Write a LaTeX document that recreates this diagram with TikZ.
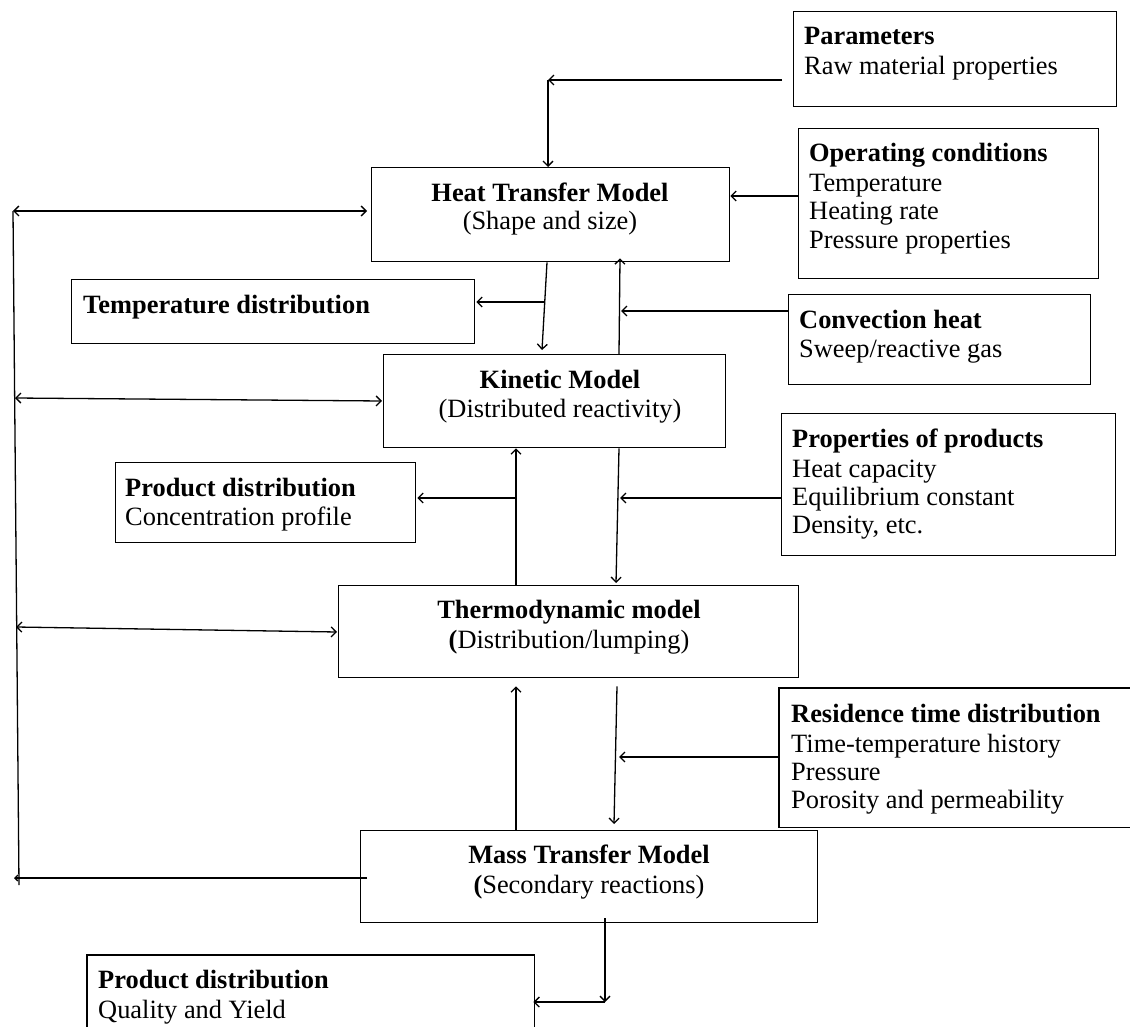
\documentclass[tikz,border=0pt]{standalone}
\usepackage{fontspec}
\setmainfont{Liberation Serif}
\usetikzlibrary{arrows.meta,calc}
\begin{document}
\begin{tikzpicture}[x=1pt,y=-1pt,
  box/.style={draw,line width=1.3pt,inner sep=0pt,anchor=north west},
  hbox/.style={inner sep=0pt,anchor=north west},
  txt/.style={inner sep=0pt,font=\fontsize{26.4}{28.7}\selectfont},
  bt/.style={inner sep=0pt,font=\fontsize{26.4}{28.7}\selectfont\bfseries},
  ln/.style={line width=1.3pt},
  arr/.style={ln,-{Straight Barb[length=5pt,width=10pt]}},
  darr/.style={ln,{Straight Barb[length=5pt,width=10pt]}-{Straight Barb[length=5pt,width=10pt]}},
]
\useasboundingbox (0,0) rectangle (1130,1027);

% boxes
\node[box,minimum width=323pt,minimum height=95pt]  (param)  at (793,11)  {};
\node[box,minimum width=358pt,minimum height=94pt]  (ht)     at (371,167) {};
\node[box,minimum width=300pt,minimum height=150pt] (opc)    at (798,128) {};
\node[box,minimum width=403pt,minimum height=64pt]  (tempd)  at (71,279)  {};
\node[box,minimum width=302pt,minimum height=90pt]  (conv)   at (788,294) {};
\node[box,minimum width=342pt,minimum height=93pt]  (kin)    at (383,354) {};
\node[box,minimum width=300pt,minimum height=80pt]  (prodA)  at (115,462) {};
\node[box,minimum width=334pt,minimum height=142pt] (props)  at (781,413) {};
\node[box,minimum width=460pt,minimum height=92pt]  (thermo) at (338,585) {};
\node[hbox,minimum width=352pt,minimum height=139pt] (resid) at (779,688) {};
\draw[ln] (resid.north east) -- (resid.north west) -- (resid.south west) -- (resid.south east);
\node[box,minimum width=457pt,minimum height=92pt]  (mass)   at (360,830) {};
\node[hbox,minimum width=447pt,minimum height=73pt] (prodB)  at (87,955)  {};
\draw[ln] (prodB.south west) -- (prodB.north west) -- (prodB.north east) -- (prodB.south east);

% texts
\node[bt,anchor=base west]  (paramT1) at (804,45)  {Parameters};
\node[txt,anchor=base west] (paramT2) at (804,75)  {Raw material properties};

\node[bt,anchor=base]  (htT1) at (550,202) {Heat Transfer Model};
\node[txt,anchor=base] (htT2) at (550,230) {(Shape and size)};

\node[bt,anchor=base west]  (opcT1) at (809,162) {Operating conditions};
\node[txt,anchor=base west] (opcT2) at (809,192) {Temperature};
\node[txt,anchor=base west] (opcT3) at (809,220) {Heating rate};
\node[txt,anchor=base west] (opcT4) at (809,248) {Pressure properties};

\node[bt,anchor=base west] (tempdT) at (83,313) {Temperature distribution};

\node[bt,anchor=base west]  (convT1) at (799,328) {Convection heat};
\node[txt,anchor=base west] (convT2) at (799,357) {Sweep/reactive gas};

\node[bt,anchor=base]  (kinT1) at (560,388) {Kinetic Model};
\node[txt,anchor=base] (kinT2) at (560,417) {(Distributed reactivity)};

\node[bt,anchor=base west]  (prodAT1) at (125,496) {Product distribution};
\node[txt,anchor=base west] (prodAT2) at (125,525) {Concentration profile};

\node[bt,anchor=base west]  (propsT1) at (792,447) {Properties of products};
\node[txt,anchor=base west] (propsT2) at (792,477) {Heat capacity};
\node[txt,anchor=base west] (propsT3) at (792,505) {Equilibrium constant};
\node[txt,anchor=base west] (propsT4) at (792,533) {Density, etc.};

\node[bt,anchor=base]  (thermoT1) at (569,618) {Thermodynamic model};
\node[txt,anchor=base] (thermoT2) at (569,648) {{\bfseries(}Distribution/lumping)};

\node[bt,anchor=base west]  (residT1) at (791,722) {Residence time distribution};
\node[txt,anchor=base west] (residT2) at (791,752) {Time-temperature history};
\node[txt,anchor=base west] (residT3) at (791,780) {Pressure};
\node[txt,anchor=base west] (residT4) at (791,808) {Porosity and permeability};

\node[bt,anchor=base]  (massT1) at (589,863) {Mass Transfer Model};
\node[txt,anchor=base] (massT2) at (589,893) {{\bfseries(}Secondary reactions)};

\node[bt,anchor=base west]  (prodBT1) at (98,988)  {Product distribution};
\node[txt,anchor=base west] (prodBT2) at (98,1018) {Quality and Yield};

% junction coordinates
\coordinate (pa) at (548,80);
\coordinate (L1) at (13,211);
\coordinate (L2) at (15,398);
\coordinate (L3) at (16,627);
\coordinate (L4) at (19,885);
\coordinate (L5) at (14,878);
\coordinate (tb) at (545,302);
\coordinate (cb) at (621,311);
\coordinate (pb) at (620,498);
\coordinate (qb) at (516,498);
\coordinate (rb) at (619,757);
\coordinate (md) at (605,1002);

% parameters to heat transfer
\draw[arr] ($(param.west |- pa)+(-11,0)$) -- (pa);
\draw[arr] (pa) -- (ht.north -| pa);
% operating conditions
\draw[arr] (opc.west |- 0,196) -- (ht.east |- 0,196);
% left feedback bus
\draw[ln] (L1) -- (L4);
\draw[darr] (L1) -- ($(ht.west |- L1)+(-4,0)$);
\draw[darr] (L2) -- ($(kin.west |- 0,401)+(-1,0)$);
\draw[darr] (L3) -- ($(thermo.west |- 0,632)+(-1,0)$);
\draw[ln,-{Straight Barb[length=3pt,width=6pt]}] ($(mass.west |- L5)+(7,0)$) -- (L5);
% heat transfer <-> kinetic
\draw[arr] (ht.south -| 547,0) -- ($(kin.north -| 542,0)+(0,-4)$);
\draw[arr] (tb) -- ($(tempd.east |- tb)+(1,0)$);
\draw[arr] (kin.north -| 619,0) -- ($(ht.south -| 620,0)+(0,-4)$);
\draw[arr] (conv.west |- cb) -- (cb);
% kinetic <-> thermodynamic
\draw[arr] (kin.south -| 619,0) -- ($(thermo.north -| 616,0)+(0,-2)$);
\draw[arr] (props.west |- pb) -- (pb);
\draw[arr] (thermo.north -| 516,0) -- (kin.south -| 516,0);
\draw[arr] (qb) -- ($(prodA.east |- qb)+(1,0)$);
% thermodynamic <-> mass transfer
\draw[arr] (mass.north -| 516,0) -- ($(thermo.south -| 516,0)+(0,8)$);
\draw[arr] ($(thermo.south -| 617,0)+(0,8)$) -- ($(mass.north -| 614,0)+(0,-6)$);
\draw[arr] (resid.west |- rb) -- (rb);
% mass transfer to product distribution
\draw[arr] ($(mass.south -| md)+(0,-5)$) -- (md);
\draw[arr] (md) -- ($(prodB.east |- md)+(-1,0)$);
\end{tikzpicture}
\end{document}
